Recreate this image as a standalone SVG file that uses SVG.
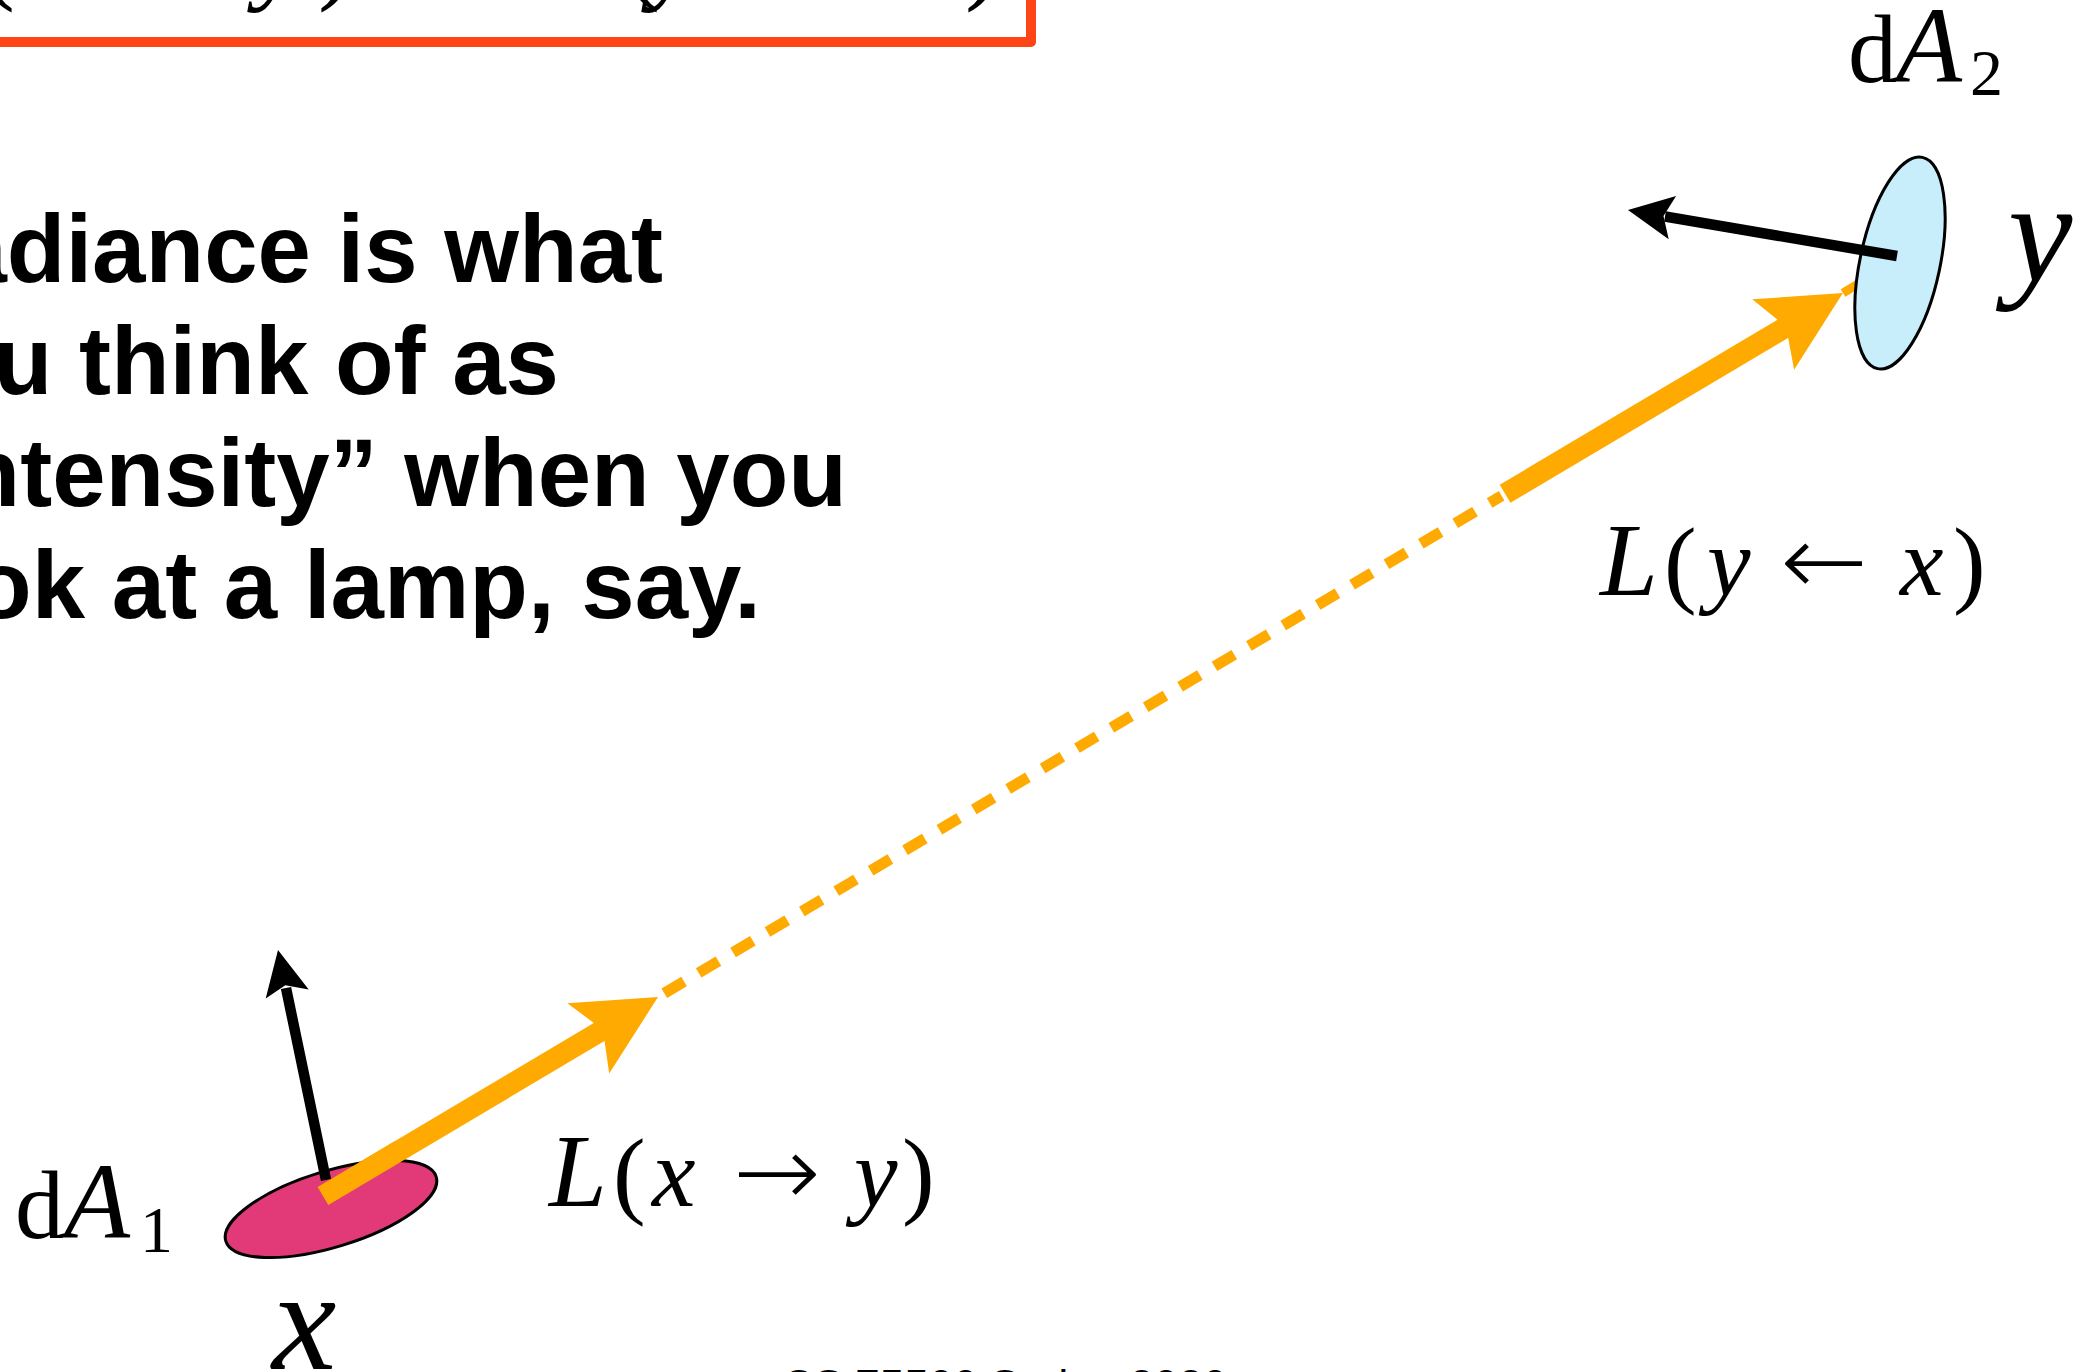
<svg xmlns="http://www.w3.org/2000/svg" width="2081" height="1372" viewBox="0 0 2081 1372">
<style>
.bold{font-family:"Liberation Sans",Arial,sans-serif;font-weight:bold;font-size:96px;fill:#000}
.m{font-family:"Liberation Serif","Times New Roman",serif;fill:#000}
.it{font-style:italic}
.ar{font-family:"DejaVu Sans","Liberation Serif",serif;font-weight:200;font-style:normal;fill:#000}
.foot{font-family:"Liberation Sans",Arial,sans-serif;font-size:44px;fill:#000}
.normal{stroke:#000;stroke-width:10.5;fill:none}
.head{fill:#000}
.ray{stroke:#FFAA00;fill:none;stroke-linecap:butt}
.rayhead{fill:#FFAA00}
</style>
<rect width="2081" height="1372" fill="#fff"/>

<!-- clipped formula box at top -->
<g id="formula-box">
<path d="M0,42 H1031 V0" fill="none" stroke="#FF4516" stroke-width="10" stroke-linejoin="round"/>
<text class="m" font-size="105" y="-10"><tspan class="it" x="-80">L</tspan><tspan x="-20">(</tspan><tspan class="it" x="15">x</tspan><tspan class="ar" x="80">→</tspan><tspan x="256" class="it">y</tspan><tspan x="318">)</tspan><tspan x="420">=</tspan><tspan class="it" x="530">L</tspan><tspan x="625">(</tspan><tspan class="it" x="650">y</tspan><tspan class="ar" x="735">←</tspan><tspan class="it" x="860">x</tspan><tspan x="965">)</tspan></text>
</g>

<!-- bold statement -->
<g id="statement">
<text class="bold" text-anchor="end" x="663" y="282">Radiance is what</text>
<text class="bold" text-anchor="end" x="559" y="394">you think of as</text>
<text class="bold" text-anchor="end" x="847" y="506">“intensity” when you</text>
<text class="bold" text-anchor="end" x="761" y="618">look at a lamp, say.</text>
</g>

<!-- connectors: radiance ray from x to y -->
<g id="connectors">
<line class="ray" x1="323" y1="1196" x2="606.7" y2="1027.5" stroke-width="21"/>
<path class="rayhead" d="M658,997 L609.2,1073.6 L602.9,1029.7 L567.4,1003.2 Z"/>
<line class="ray" x1="664.3" y1="993.3" x2="1501.6" y2="495.8" stroke-width="11" stroke-dasharray="23 17"/>
<line class="ray" x1="1505.1" y1="493.8" x2="1793.1" y2="322.7" stroke-width="21"/>
<path class="rayhead" d="M1842.9,293.1 L1794.1,369.7 L1786.1,326.8 L1752.3,299.3 Z"/>
<line class="ray" x1="1843" y1="293" x2="1870.5" y2="276.7" stroke-width="9"/>
</g>

<!-- surface dA2 at y -->
<g id="surface-y">
<ellipse cx="1900" cy="263" rx="40" ry="108" transform="rotate(12 1900 263)" fill="#C8EEFC" stroke="#000" stroke-width="3"/>
<line class="normal" x1="1897" y1="256" x2="1665" y2="216.5"/>
<path class="head" d="M1628,210 L1676.1,195.9 L1663.5,216.1 L1668.7,239.3 Z"/>
</g>

<!-- surface dA1 at x -->
<g id="surface-x">
<ellipse cx="331" cy="1209" rx="110" ry="38" transform="rotate(-17 331 1209)" fill="#E23A78" stroke="#000" stroke-width="3"/>
<line class="normal" x1="326" y1="1180" x2="286" y2="988"/>
<path class="head" d="M278,950 L308.7,989.5 L285.3,985.2 L265.7,998.5 Z"/>
<line class="ray" x1="323" y1="1196" x2="400" y2="1150.3" stroke-width="21"/>
</g>

<!-- labels -->
<g id="labels">
<text class="m" font-size="98" y="82"><tspan x="1848">d</tspan><tspan class="it" x="1896" font-size="108">A</tspan></text>
<text class="m" font-size="66" x="1970" y="95">2</text>
<text class="m it" font-size="145" x="2008" y="281">y</text>

<text class="m" font-size="98" y="595"><tspan class="it" x="1600" font-size="104">L</tspan><tspan x="1664">(</tspan><tspan class="it" x="1707">y</tspan><tspan class="it" x="1900">x</tspan><tspan x="1953">)</tspan></text>
<text class="ar" font-size="100" x="1780" y="595" textLength="88" lengthAdjust="spacingAndGlyphs">←</text>

<text class="m" font-size="98" y="1206"><tspan class="it" x="549" font-size="104">L</tspan><tspan x="613">(</tspan><tspan class="it" x="652">x</tspan><tspan class="it" x="854">y</tspan><tspan x="902">)</tspan></text>
<text class="ar" font-size="100" x="733" y="1206" textLength="88" lengthAdjust="spacingAndGlyphs">→</text>

<text class="m" font-size="98" y="1238"><tspan x="15">d</tspan><tspan class="it" x="64" font-size="108">A</tspan></text>
<text class="m" font-size="66" x="140" y="1252">1</text>
<text class="m it" font-size="145" x="272" y="1369">x</text>
</g>

<text class="foot" x="782" y="1401">CS 75500 Spring 2020</text>
</svg>
